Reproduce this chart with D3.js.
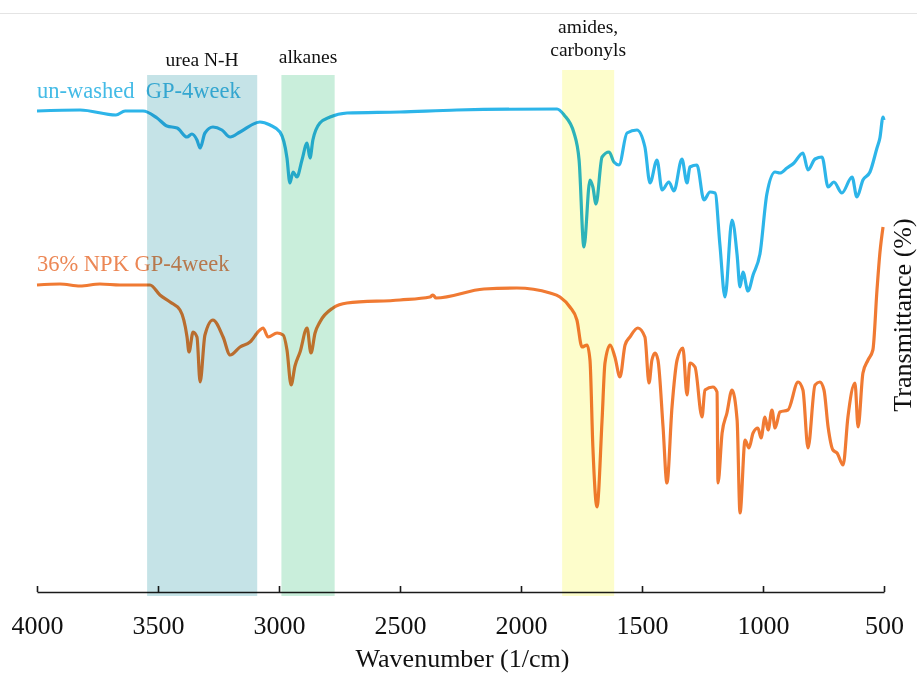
<html>
<meta charset="utf-8">

<head>
    <script src="https://d3js.org/d3.v7.min.js"></script>
    <style>
        body {
            margin: 0;
            background: #fff;
        }

        * {
            font-family: "Liberation Serif", "Times New Roman", serif;
        }

        .xaxis .domain,
        .xaxis line {
            stroke: #1a1a1a;
            stroke-width: 1.6;
        }

        .xaxis text {
            font-size: 26px;
            fill: #111;
        }

        .bandLabel {
            font-size: 19.5px;
            fill: #111;
        }
    </style>
</head>

<body>
    <svg id="ftir" width="917" height="675"></svg>

    <script>
        // x ticks (wavenumber, 1/cm)
        const tickValues = [4000, 3500, 3000, 2500, 2000, 1500, 1000, 500];

        // un-washed GP-4week
        const unwashedWn = [4000, 3822, 3674, 3636, 3562, 3504, 3463, 3421, 3380, 3360, 3339, 3326, 3306, 3273, 3236, 3202, 3161,
            3079, 3037, 2996, 2967, 2955, 2942, 2926, 2905, 2884, 2872, 2860, 2831, 2789, 2719, 2500, 2265, 1851, 1822, 1781,
            1760, 1740, 1715, 1703, 1690, 1665, 1636, 1616, 1595, 1562, 1521, 1488, 1467, 1438, 1417, 1389, 1368, 1335, 1314,
            1302, 1273, 1244, 1219, 1198, 1178, 1157, 1128, 1107, 1095, 1083, 1062, 1041, 1012, 984, 950, 930, 901, 872, 835,
            814, 785, 756, 731, 707, 674, 632, 612, 587, 558, 529, 517, 504, 500];
        const unwashedT = [96.0, 96.2, 95.2, 96.0, 96.0, 94.6, 93.0, 92.6, 90.8, 91.4, 90.2, 88.6, 91.6, 92.8, 92.2, 90.8, 91.8,
            93.8, 93.2, 91.8, 86.6, 81.6, 83.8, 82.8, 86.2, 89.6, 86.6, 90.2, 93.6, 94.8, 95.6, 95.8, 96.2, 96.4, 95.2, 91.6,
            86.2, 68.8, 82.2, 80.8, 77.4, 86.8, 87.8, 85.8, 85.2, 91.6, 92.2, 88.8, 81.6, 86.2, 80.2, 81.8, 80.0, 86.4, 81.6,
            84.8, 85.2, 78.2, 79.8, 79.6, 69.2, 58.8, 74.2, 67.2, 60.8, 63.8, 60.0, 63.2, 67.6, 79.4, 83.8, 83.6, 84.6, 85.6, 87.6,
            84.2, 86.4, 86.8, 80.8, 81.8, 79.6, 82.8, 78.8, 82.2, 83.8, 88.6, 90.6, 94.8, 94.2];

        // 36% NPK GP-4week
        const npkWn = [4000, 3905, 3822, 3740, 3657, 3533, 3492, 3450, 3409, 3380, 3372, 3355, 3339, 3326, 3306, 3273, 3231,
            3202, 3161, 3120, 3079, 3066, 3045, 3008, 2983, 2967, 2950, 2934, 2913, 2884, 2868, 2851, 2831, 2777, 2719, 2500,
            2376, 2364, 2351, 2153, 2017, 1880, 1839, 1798, 1769, 1748, 1727, 1715, 1703, 1686, 1665, 1653, 1632, 1612, 1591,
            1570, 1550, 1517, 1488, 1471, 1459, 1446, 1434, 1413, 1397, 1376, 1355, 1331, 1314, 1302, 1281, 1252, 1240, 1207,
            1190, 1186, 1169, 1149, 1128, 1107, 1095, 1074, 1058, 1041, 1021, 1008, 992, 979, 963, 950, 930, 897, 855, 835, 814,
            785, 765, 748, 731, 711, 694, 669, 649, 620, 607, 587, 566, 546, 529, 517, 504];
        const npkT = [61.2, 61.4, 61.0, 61.4, 61.2, 61.2, 59.2, 57.8, 56.2, 50.8, 47.8, 51.8, 50.8, 41.8, 51.2, 54.2, 50.8,
            47.2, 48.8, 49.8, 52.2, 52.6, 50.8, 51.6, 51.2, 48.2, 41.2, 45.0, 47.8, 52.6, 47.6, 51.6, 53.8, 56.6, 57.6, 58.2,
            58.8, 59.2, 58.6, 60.4, 60.6, 59.6, 58.8, 56.8, 54.2, 48.8, 49.2, 46.2, 28.8, 16.8, 34.2, 45.6, 49.2, 46.8, 42.8,
            49.2, 50.8, 52.6, 50.8, 41.6, 46.2, 47.6, 46.2, 32.8, 21.6, 36.8, 46.2, 48.6, 39.2, 45.6, 44.8, 34.8, 40.2, 40.8,
            39.8, 21.6, 31.6, 35.6, 40.2, 34.2, 15.6, 30.2, 28.6, 31.6, 32.6, 30.6, 34.8, 32.2, 36.2, 32.6, 35.8, 36.2, 41.8, 40.2, 28.6,
            41.2, 41.8, 40.2, 32.8, 28.2, 27.6, 25.2, 34.8, 41.6, 32.8, 43.6, 46.2, 48.2, 60.2, 67.6, 72.8];

        // highlighted regions
        const bandNames = [["urea N-H"], ["alkanes"], ["amides,", "carbonyls"]];
        const bandFrom = [3545, 2990, 1830];
        const bandTo = [3090, 2770, 1615];

        const seriesNames = ["un-washed  GP-4week", "36% NPK GP-4week"];

        const svg = d3.select('svg#ftir');
        const width = +svg.attr('width');
        const height = +svg.attr('height');
        const margin = { top: 91, right: 33, bottom: 84, left: 37 };
        const chartWidth = width - margin.left - margin.right;
        const chartHeight = height - margin.top - margin.bottom;

        const xScale = d3.scaleLinear().domain([4000, 500]).range([margin.left, margin.left + chartWidth]);
        const yScale = d3.scaleLinear().domain([0, 100]).range([margin.top + chartHeight, margin.top]);

        // thin grey rule at the very top
        svg.append('line')
            .attr('x1', 0).attr('x2', width)
            .attr('y1', 13.5).attr('y2', 13.5)
            .attr('stroke', '#e4e4e4')
            .attr('stroke-width', 1);

        const lineGen = d3.line()
            .x(d => xScale(d[0]))
            .y(d => yScale(d[1]))
            .curve(d3.curveMonotoneX);

        const series = [
            { name: seriesNames[0], pts: d3.zip(unwashedWn, unwashedT), color: '#2db5e9', text: '#43bbe6', labelY: 98 },
            { name: seriesNames[1], pts: d3.zip(npkWn, npkT), color: '#f07a33', text: '#ec8755', labelY: 271 }
        ];

        let lines = svg.append('g').attr('id', 'lines');
        lines.selectAll('path')
            .data(series)
            .join('path')
            .attr('fill', 'none')
            .attr('stroke', d => d.color)
            .attr('stroke-width', 3.2)
            .attr('stroke-linejoin', 'round')
            .attr('d', d => lineGen(d.pts));

        lines.selectAll('text')
            .data(series)
            .join('text')
            .attr('x', margin.left)
            .attr('y', d => d.labelY)
            .attr('fill', d => d.text)
            .style('font-size', '22.5px')
            .style('white-space', 'pre')
            .text(d => d.name);

        // x axis, ticks pointing up
        let bottomAxis = d3.axisBottom(xScale)
            .tickValues(tickValues)
            .tickSizeInner(-6)
            .tickSizeOuter(0)
            .tickPadding(24)
            .tickFormat(d3.format('d'));

        svg.append('g')
            .attr('class', 'xaxis')
            .attr('transform', `translate(0,${margin.top + chartHeight + 1})`)
            .call(bottomAxis);

        // coloured bands laid over the spectra
        const bandColors = ['#c5e3e7', '#c9eedb', '#fdfdcb'];
        const bandTop = [75, 75, 70];
        const labelY = [66, 63, 56];
        let bands = svg.append('g').attr('id', 'bands').style('mix-blend-mode', 'multiply');
        bands.selectAll('rect')
            .data(bandFrom)
            .join('rect')
            .attr('x', (d, i) => xScale(d))
            .attr('width', (d, i) => xScale(bandTo[i]) - xScale(d))
            .attr('y', (d, i) => bandTop[i])
            .attr('height', (d, i) => margin.top + chartHeight + 5 - bandTop[i])
            .attr('fill', (d, i) => bandColors[i])
            .style('mix-blend-mode', 'multiply');

        bandNames.forEach((lbl, i) => {
            const cx = (xScale(bandFrom[i]) + xScale(bandTo[i])) / 2;
            lbl.forEach((t, j) => {
                svg.append('text')
                    .attr('class', 'bandLabel')
                    .attr('x', cx)
                    .attr('y', labelY[i] - (lbl.length - 1 - j) * 23)
                    .attr('text-anchor', 'middle')
                    .text(t);
            });
        });

        // axis titles
        svg.append('text').text('Wavenumber (1/cm)')
            .attr('x', (xScale(4000) + xScale(500)) / 2 + 2)
            .attr('y', 667)
            .attr('text-anchor', 'middle')
            .style('font-size', '26px')
            .attr('fill', '#111');

        svg.append('text').text('Transmittance (%)')
            .attr('transform', `translate(911,315) rotate(-90)`)
            .attr('text-anchor', 'middle')
            .style('font-size', '26px')
            .attr('fill', '#111');
    </script>
</body>

</html>
